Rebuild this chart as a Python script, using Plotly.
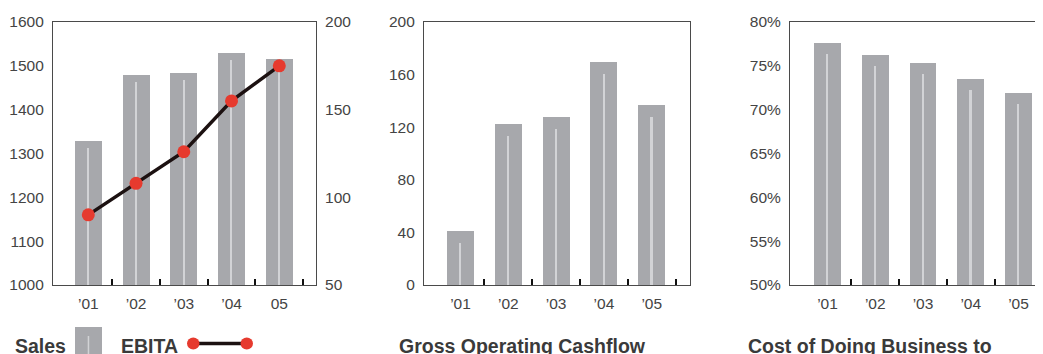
import plotly.graph_objects as go

# ---------------- data ----------------
years_p1 = ["\u201901", "\u201902", "\u201903", "\u201904", "05"]
years = ["\u201901", "\u201902", "\u201903", "\u201904", "\u201905"]
sales = [1329, 1479, 1484, 1530, 1516]
ebita = [90, 108, 126, 155, 175]
cashflow = [41, 122.4, 127.8, 169.6, 136.9]
cost_ratio = [77.6, 76.2, 75.3, 73.5, 71.9]

sales_ticks = [1000, 1100, 1200, 1300, 1400, 1500, 1600]
ebita_ticks = [50, 100, 150, 200]
cash_ticks = [0, 40, 80, 120, 160, 200]
cost_ticks = [50, 55, 60, 65, 70, 75, 80]
cost_labels = ["50%", "55%", "60%", "65%", "70%", "75%", "80%"]

# ---------------- style ----------------
OFF = 8                      # page body margin in which the figure sits
W, H = 1043 - OFF, 354 - OFF
BAR = "#a7a8ac"
INNER = "#d2d3d6"
AXIS = "#4a4a4a"
TXT = "#444444"
TITLE = "#3a3a3a"
RED = "#e63a2e"
LINE = "#1c1111"
FONT = "Liberation Sans"


def fx(p):
    return (p - OFF) / W


def fy(p):
    return 1 - (p - OFF) / H


ydom = [fy(285), fy(22)]
idx = list(range(len(years)))
bounds = [i + 0.5 for i in idx]
bar_w = 0.565
inner_w = 0.032

fig = go.Figure()


def add_bars(vals, xa, ya, rng, inner_px):
    fig.add_trace(go.Bar(x=idx, y=vals, width=bar_w, marker=dict(color=BAR, line=dict(width=0)),
                         xaxis=xa, yaxis=ya, hoverinfo="skip", showlegend=False))
    off = inner_px * (rng[1] - rng[0]) / 263.0
    fig.add_trace(go.Bar(x=idx, y=[v - off for v in vals], width=inner_w,
                         marker=dict(color=INNER, line=dict(width=0)),
                         xaxis=xa, yaxis=ya, hoverinfo="skip", showlegend=False))


add_bars(sales, "x", "y", [1000, 1600], 7)
fig.add_trace(go.Scatter(x=idx, y=ebita, mode="lines+markers", xaxis="x", yaxis="y2",
                         line=dict(color=LINE, width=3.5),
                         marker=dict(color=RED, size=13, line=dict(width=0)),
                         hoverinfo="skip", showlegend=False))
add_bars(cashflow, "x2", "y3", [0, 200], 12)
add_bars(cost_ratio, "x3", "y4", [50, 80], 11)

tickfont = dict(family=FONT, size=15.5, color=TXT)


def xaxis(dom, rng, labels, anchor, mirror=True):
    return dict(domain=dom, range=rng, anchor=anchor, tickmode="array", tickvals=idx, ticktext=labels,
                ticks="outside", ticklen=4, tickcolor="rgba(0,0,0,0)", tickfont=tickfont,
                showline=True, linecolor=AXIS, linewidth=1.2, mirror=mirror, showgrid=False, zeroline=False,
                fixedrange=True, automargin=False,
                minor=dict(tickmode="array", tickvals=bounds, ticks="inside", ticklen=6, tickwidth=2,
                           tickcolor="#111111", showgrid=False))


def yaxis(rng, tv, anchor, labels=None, side="left", mirror=True, overlaying=None):
    d = dict(domain=ydom, range=rng, anchor=anchor, side=side, tickmode="array", tickvals=tv,
             ticktext=labels if labels else [str(v) for v in tv],
             ticks="outside", ticklen=5, tickcolor="rgba(0,0,0,0)", tickfont=tickfont,
             showline=True, linecolor=AXIS, linewidth=1.2, mirror=mirror, showgrid=False, zeroline=False,
             fixedrange=True, automargin=False)
    if overlaying:
        d["overlaying"] = overlaying
    return d


x1r = [-0.739, 4.769]
x2r = [-0.764, 4.80]
x3r = [-0.785, 4.513]

fig.update_layout(
    width=W, height=H,
    margin=dict(l=0, r=0, t=0, b=0, pad=0, autoexpand=False),
    paper_bgcolor="white", plot_bgcolor="white",
    barmode="overlay", bargap=0,
    showlegend=False,
    xaxis=xaxis([fx(53), fx(316)], x1r, years_p1, "y"),
    yaxis=yaxis([1000, 1600], sales_ticks, "x"),
    yaxis2=yaxis([50, 200], ebita_ticks, "x", side="right", mirror=False, overlaying="y"),
    xaxis2=xaxis([fx(424), fx(690)], x2r, years, "y3"),
    yaxis3=yaxis([0, 200], cash_ticks, "x2"),
    xaxis3=xaxis([fx(790), 1.0], x3r, years, "y4"),
    yaxis4=yaxis([50, 80], cost_ticks, "x3", labels=cost_labels, mirror=False),
)
fig.update_layout(yaxis2=dict(showline=False))

# ---------------- titles / legend ----------------
title_font = dict(family=FONT, size=19.5, color=TITLE)
for text, x in [("Sales", 13), ("EBITA", 119), ("Gross Operating Cashflow", 397),
                ("Cost of Doing Business to", 746)]:
    fig.add_annotation(text="<b>" + text + "</b>", x=fx(x), y=fy(333), xref="paper", yref="paper",
                       xanchor="left", yanchor="top", showarrow=False, font=title_font)

shapes = [
    dict(type="rect", xref="paper", yref="paper", x0=fx(75), x1=fx(102), y0=fy(360), y1=fy(327),
         fillcolor=BAR, line=dict(width=0)),
    dict(type="rect", xref="paper", yref="paper", x0=fx(87.7), x1=fx(89.2), y0=fy(360), y1=fy(336),
         fillcolor=INNER, line=dict(width=0)),
    dict(type="line", xref="paper", yref="paper", x0=fx(193), x1=fx(247), y0=fy(343.5), y1=fy(343.5),
         line=dict(color=LINE, width=3.5)),
    dict(type="circle", xref="paper", yref="paper", x0=fx(187), x1=fx(199.5), y0=fy(349.5), y1=fy(337.5),
         fillcolor=RED, line=dict(width=0)),
    dict(type="circle", xref="paper", yref="paper", x0=fx(240.5), x1=fx(253), y0=fy(349.5), y1=fy(337.5),
         fillcolor=RED, line=dict(width=0)),
]
fig.update_layout(shapes=shapes)

fig.write_html("out.html", config={"displayModeBar": False})
